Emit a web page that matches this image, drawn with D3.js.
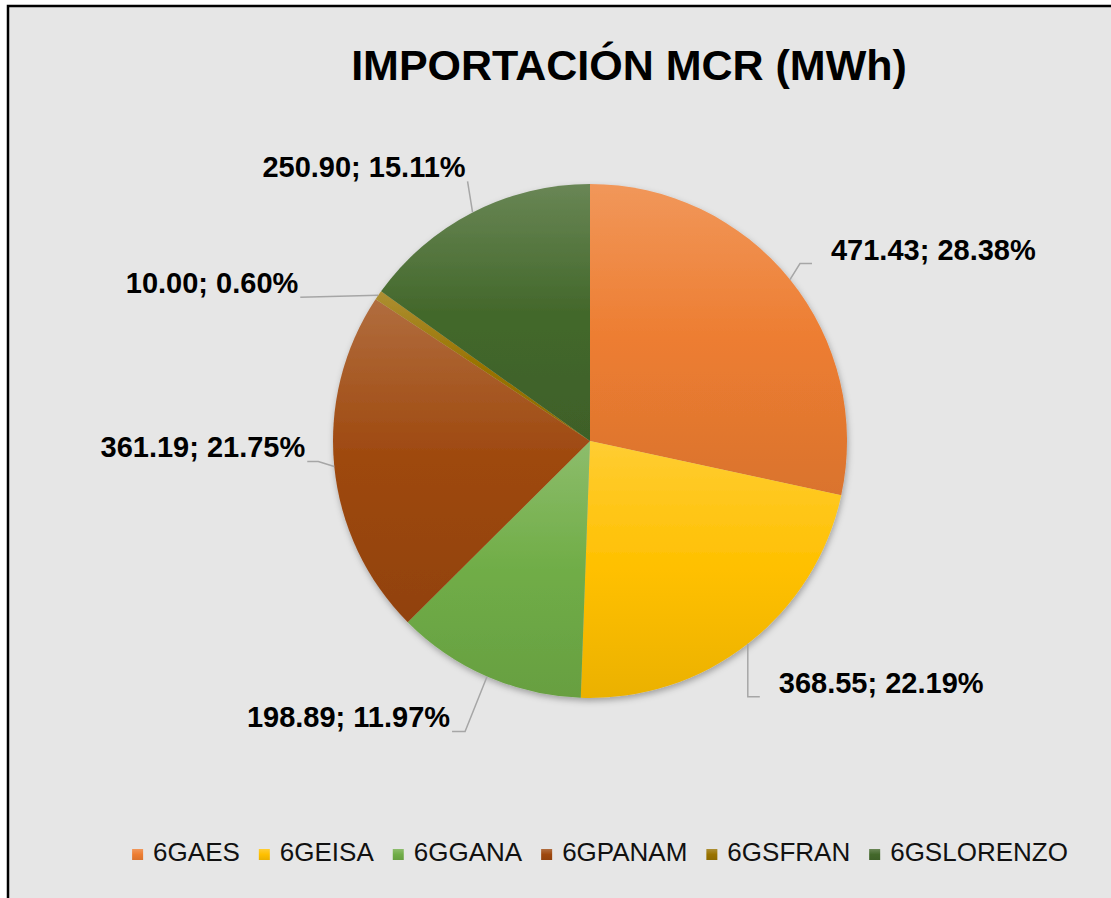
<!DOCTYPE html>
<html>
<head>
<meta charset="utf-8">
<script src="https://cdn.jsdelivr.net/npm/d3@7"></script>
<style>
  body { margin: 0; background: #fff; }
  svg { display: block; }
</style>
</head>
<body>
<script>
// data
var categories = ["6GAES", "6GEISA", "6GGANA", "6GPANAM", "6GSFRAN", "6GSLORENZO"];
var values = [471.43, 368.55, 198.89, 361.19, 10.00, 250.90];
var colors = ["#ED7D31", "#FFC000", "#70AD47", "#9E480E", "#997300", "#43682B"];
var title = "IMPORTACIÓN MCR (MWh)";

// label placement (best fit, like the original), relative to the slice edge point
var labelOffset = [[22, -16], [12, 53], [-35, 55], [-27, -5], [-78, 2], [-5, -31]];
var tailLen = [12, 12, 13, 11, 0, 0];

var width = 1111, height = 898;
var cx = 590, cy = 441, r = 257;

var svg = d3.select("body").append("svg")
    .attr("width", width)
    .attr("height", height);

// chart area + border
svg.append("rect")
    .attr("x", 8).attr("y", 6)
    .attr("width", width + 20).attr("height", height + 20)
    .attr("fill", "#e6e6e6")
    .attr("stroke", "#000")
    .attr("stroke-width", 2.5);

var defs = svg.append("defs");

var shadow = defs.append("filter").attr("id", "shadow")
    .attr("x", "-10%").attr("y", "-10%").attr("width", "120%").attr("height", "120%");
shadow.append("feDropShadow")
    .attr("dx", 1).attr("dy", 3)
    .attr("stdDeviation", 3)
    .attr("flood-color", "#000")
    .attr("flood-opacity", 0.3);

// one vertical gradient per colour, applied per slice bounding box
colors.forEach(function(c, i) {
  var g = defs.append("linearGradient").attr("id", "grad" + i)
      .attr("x1", 0).attr("y1", 0).attr("x2", 0).attr("y2", 1);
  g.append("stop").attr("offset", "0%").attr("stop-color", d3.interpolateRgb(c, "#fff")(0.2));
  g.append("stop").attr("offset", "50%").attr("stop-color", c);
  g.append("stop").attr("offset", "100%").attr("stop-color", d3.interpolateRgb(c, "#000")(0.08));
});

// title
svg.append("text")
    .attr("x", 629).attr("y", 80)
    .attr("text-anchor", "middle")
    .style("font-family", "'Liberation Sans', Arial, sans-serif")
    .style("font-weight", "bold")
    .style("font-size", "43px")
    .attr("fill", "#000")
    .text(title);

var data = categories.map(function(c, i) { return {name: c, value: values[i], i: i}; });
var total = d3.sum(values);

var pie = d3.pie().sort(null).value(function(d) { return d.value; });
var arc = d3.arc().innerRadius(0).outerRadius(r);
var arcs = pie(data);

var pieG = svg.append("g")
    .attr("transform", "translate(" + cx + "," + cy + ")")
    .attr("filter", "url(#shadow)");

pieG.selectAll("path")
    .data(arcs)
  .enter().append("path")
    .attr("d", arc)
    .attr("fill", function(d) { return "url(#grad" + d.data.i + ")"; });

// labels + leader lines
var fmtV = d3.format(".2f"), fmtP = d3.format(".2%");
var labelG = svg.append("g").attr("transform", "translate(" + cx + "," + cy + ")");

arcs.forEach(function(d, i) {
  var mid = (d.startAngle + d.endAngle) / 2;
  var edge = [r * Math.sin(mid), -r * Math.cos(mid)];
  var anchor = [edge[0] + labelOffset[i][0], edge[1] + labelOffset[i][1]];
  var right = anchor[0] > 0;
  var elbow = [anchor[0] + (right ? -tailLen[i] : tailLen[i]), anchor[1]];

  labelG.append("path")
      .attr("d", d3.line()([edge, elbow, anchor]))
      .attr("fill", "none")
      .attr("stroke", "#a6a6a6")
      .attr("stroke-width", 1.5);

  labelG.append("text")
      .attr("x", right ? anchor[0] + 19 : anchor[0] - 2)
      .attr("y", anchor[1] - 4)
      .attr("text-anchor", right ? "start" : "end")
      .style("font-family", "'Liberation Sans', Arial, sans-serif")
      .style("font-weight", "bold")
      .style("font-size", "29px")
      .attr("fill", "#000")
      .text(fmtV(d.data.value) + "; " + fmtP(d.data.value / total));
});

// legend
var legend = svg.append("g");
var items = legend.selectAll("g")
    .data(data)
  .enter().append("g");

items.append("rect")
    .attr("width", 11).attr("height", 11)
    .attr("y", -12)
    .attr("fill", function(d) { return "url(#grad" + d.i + ")"; });

items.append("text")
    .attr("x", 21)
    .attr("y", 0)
    .style("font-family", "'Liberation Sans', Arial, sans-serif")
    .style("font-size", "26px")
    .attr("fill", "#111")
    .text(function(d) { return d.name; });

var xpos = 0;
items.each(function() {
  var w = d3.select(this).select("text").node().getComputedTextLength();
  d3.select(this).attr("transform", "translate(" + xpos + ",0)");
  xpos += 21 + w + 19;
});
var legendW = xpos - 19;
legend.attr("transform", "translate(" + (600 - legendW / 2) + ",861)");
</script>
</body>
</html>
